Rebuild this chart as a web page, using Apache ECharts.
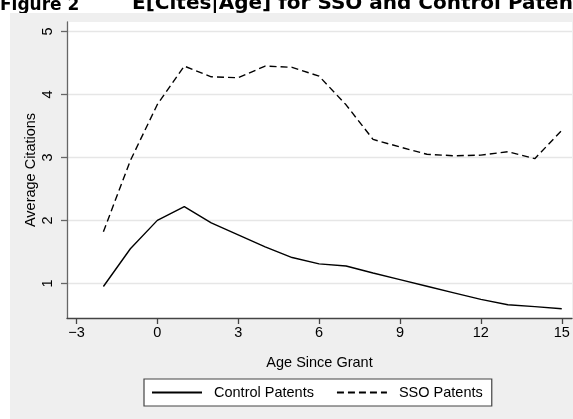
<!DOCTYPE html>
<html>
<head>
<meta charset="utf-8">
<script src="https://cdn.jsdelivr.net/npm/echarts@6/dist/echarts.min.js"></script>
<style>html,body{margin:0;padding:0;background:#fff;}#c{width:573px;height:419px;}</style>
</head>
<body>
<div id="c"></div>
<script>
const ages = [-2,-1,0,1,2,3,4,5,6,7,8,9,10,11,12,13,14,15];
const controlValues = [0.95,1.55,2.0,2.22,1.96,1.77,1.58,1.41,1.31,1.275,1.165,1.06,0.955,0.85,0.745,0.66,0.63,0.597];
const ssoValues = [1.82,2.95,3.84,4.45,4.28,4.265,4.45,4.43,4.29,3.835,3.286,3.165,3.05,3.026,3.036,3.09,2.98,3.43];
const xTicks = [-3,0,3,6,9,12,15];
const yTicks = [1,2,3,4,5];
const seriesNames = ['Control Patents','SSO Patents'];
const figureLabel = 'Figure 2';
const titleText = 'E[Cites|Age] for SSO and Control Patents';

const chart = echarts.init(document.getElementById('c'), null, {renderer:'canvas'});
const font = '"Liberation Sans", Arial, sans-serif';
chart.setOption({
  backgroundColor: '#ffffff',
  animation: false,
  graphic: [
    {type:'text', z:-20, left:0, top:-3, style:{text:figureLabel, font:'bold 17px "DejaVu Sans"', fill:'#000'}},
    {type:'text', z:-20, left:132, top:-6, style:{text:titleText, font:'bold 20px "DejaVu Sans"', fill:'#000'}},
    {type:'rect', z:-10, shape:{x:10,y:13,width:563,height:406}, style:{fill:'#efefef'}}
  ],
  grid: {left:67, right:1, top:22, bottom:101, show:true, backgroundColor:'#ffffff', borderWidth:0},
  xAxis: {
    type:'value', min:-3.35, max:15.38,
    name:'Age Since Grant', nameLocation:'middle', nameGap:37, nameMoveOverlap:false,
    nameTextStyle:{fontFamily:font, fontSize:14.5, color:'#000'},
    axisLine:{onZero:false, lineStyle:{color:'#444', width:1.3}},
    axisTick:{show:true, length:6, customValues:xTicks, lineStyle:{color:'#444', width:1.3}},
    axisLabel:{customValues:xTicks, margin:7, fontFamily:font, fontSize:14.5, color:'#000',
      formatter:v=>String(v).replace('-','\u2212')},
    splitLine:{show:false}
  },
  yAxis: {
    type:'value', min:0.45, max:5.15,
    name:'Average Citations', nameLocation:'middle', nameGap:29, nameMoveOverlap:false,
    nameTextStyle:{fontFamily:font, fontSize:14.5, color:'#000'},
    axisLine:{show:true, onZero:false, lineStyle:{color:'#666', width:1.3}},
    axisTick:{show:true, length:6, customValues:yTicks, lineStyle:{color:'#666', width:1.3}},
    axisLabel:{customValues:yTicks, rotate:90, margin:12, fontFamily:font, fontSize:14.5, color:'#000'},
    splitLine:{show:true, lineStyle:{color:'#e6e6e6', width:1.3}}
  },
  legend: {
    left:144, top:379, itemWidth:50, itemHeight:14, itemGap:22,
    padding:[6,9,6,7],
    backgroundColor:'#ffffff', borderColor:'#444', borderWidth:1.2, borderRadius:0,
    itemStyle:{opacity:0, borderWidth:0},
    textStyle:{fontFamily:font, fontSize:14.5, color:'#000', padding:[0,0,0,7]},
    data: seriesNames
  },
  series: [
    {name:seriesNames[0], type:'line', data:ages.map((a,i)=>[a,controlValues[i]]), symbol:'none',
     lineStyle:{color:'#000', width:1.4, type:'solid'}, itemStyle:{color:'#000'}},
    {name:seriesNames[1], type:'line', data:ages.map((a,i)=>[a,ssoValues[i]]), symbol:'none',
     lineStyle:{color:'#000', width:1.4, type:[7,4]}, itemStyle:{color:'#000'}}
  ]
});
</script>
</body>
</html>
